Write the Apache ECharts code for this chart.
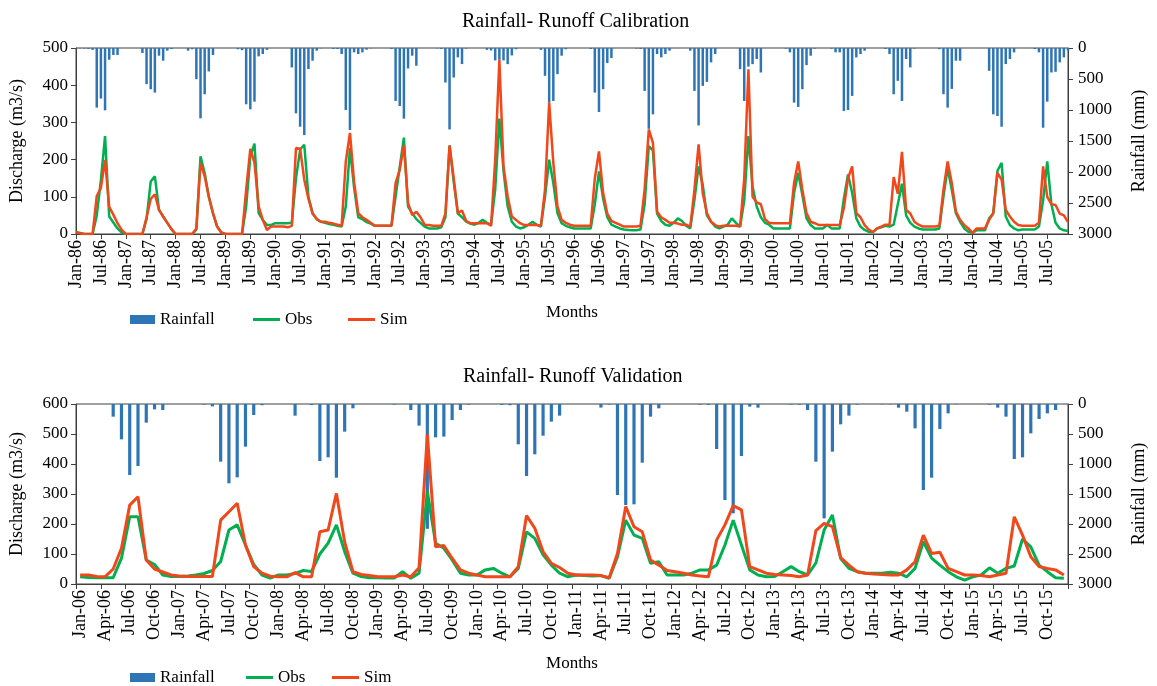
<!DOCTYPE html>
<html><head><meta charset="utf-8">
<script src="https://cdn.jsdelivr.net/npm/echarts@6/dist/echarts.min.js"></script>
<style>html,body{margin:0;padding:0;background:#fff}#c{width:1157px;height:686px}</style>
</head><body><div id="c"></div>
<script>
const monthNames = ['Jan','Feb','Mar','Apr','May','Jun','Jul','Aug','Sep','Oct','Nov','Dec'];
const calibYears = ['86','87','88','89','90','91','92','93','94','95','96','97','98','99','00','01','02','03','04','05'];
const validYears = ['06','07','08','09','10','11','12','13','14','15'];
const calibMonths = calibYears.flatMap(y => monthNames.map(m => m + '-' + y));
const validMonths = validYears.flatMap(y => monthNames.map(m => m + '-' + y));

const calibTitle = 'Rainfall- Runoff Calibration';
const validTitle = 'Rainfall- Runoff Validation';
const dischargeName = 'Discharge (m3/s)';
const rainfallName = 'Rainfall (mm)';
const monthsName = 'Months';

// Calibration (Jan-86 .. Dec-05), one row per year
const calibObs = [
  5,3,0,0,0,50,145,263,47,31,15,4,
  0,0,0,0,0,40,141,155,65,47,30,13,
  0,0,0,0,0,12,209,164,100,56,20,4,
  0,0,0,0,0,74,209,243,56,38,24,24,
  29,29,29,29,30,150,227,240,100,56,40,33,
  30,27,25,22,20,74,231,125,45,40,32,28,
  22,22,22,22,22,101,180,259,74,56,40,30,
  20,15,15,15,18,45,238,140,55,45,33,28,
  25,30,38,30,25,120,310,170,74,33,20,15,
  18,25,33,25,20,100,200,137,56,29,22,18,
  15,15,15,15,15,80,168,95,45,25,20,15,
  12,11,10,10,12,80,236,225,55,35,25,22,
  30,42,35,22,15,92,182,132,50,33,20,15,
  20,25,42,30,20,90,263,128,74,45,30,25,
  15,15,15,15,15,110,164,105,42,24,15,15,
  15,25,15,15,15,95,160,110,42,20,11,6,
  5,15,18,22,20,25,80,135,50,30,20,15,
  12,12,12,12,15,101,177,119,56,33,15,6,
  3,10,10,10,42,56,170,191,47,24,15,10,
  12,12,12,12,20,90,195,80,30,15,10,8
];
const calibSim = [
  5,2,0,0,0,102,124,199,73,52,29,11,
  0,0,0,0,0,45,94,107,65,47,30,13,
  0,0,0,0,0,15,191,155,100,56,20,4,
  0,0,0,0,0,119,229,191,74,38,11,20,
  20,20,20,18,22,231,229,146,95,55,40,33,
  33,30,28,25,22,195,272,140,56,45,38,30,
  22,22,22,22,22,137,173,238,83,51,60,45,
  25,24,22,22,22,55,238,150,56,63,35,29,
  29,29,29,29,22,200,468,182,101,47,38,29,
  24,24,24,24,22,120,353,191,74,38,30,25,
  22,22,22,22,22,150,222,110,55,35,30,25,
  20,20,20,20,22,120,281,245,60,45,38,30,
  30,28,25,25,20,119,241,110,56,33,24,20,
  22,22,22,22,20,150,443,100,85,80,40,30,
  29,29,29,29,29,137,195,119,56,33,29,24,
  24,24,24,24,24,70,150,182,56,45,24,12,
  5,15,20,25,25,153,108,221,65,55,33,25,
  20,20,20,20,22,119,195,137,60,38,24,15,
  3,15,15,15,38,56,164,146,65,47,33,24,
  22,22,22,22,30,182,100,80,78,55,50,32
];
const calibRain = [
  5,5,10,15,30,962,816,1005,189,113,113,0,
  0,0,0,0,81,584,665,719,124,205,43,16,
  0,0,0,43,20,503,1135,746,378,114,0,0,
  0,0,0,20,35,908,989,865,135,97,30,0,
  0,0,0,0,313,1054,1270,1405,340,205,43,5,
  0,0,16,16,97,1000,1324,70,97,70,27,5,
  0,0,0,0,16,854,935,1140,330,124,286,0,
  0,0,0,5,16,557,1313,476,151,259,10,0,
  0,0,0,30,40,200,190,200,260,120,20,0,
  0,0,0,0,30,449,881,854,422,124,20,0,
  0,0,0,0,16,719,1032,665,243,162,0,0,
  0,0,0,10,16,692,1303,1070,97,151,97,43,
  0,0,0,0,43,692,1249,611,546,232,97,0,
  0,0,0,0,341,854,300,260,178,395,0,0,
  0,0,0,10,70,881,951,665,276,124,10,0,
  0,0,10,70,70,1016,1000,773,151,97,43,0,
  0,0,0,16,97,746,530,854,178,313,10,0,
  0,0,0,0,20,746,962,660,205,205,0,0,
  0,0,0,0,368,1070,1097,1270,259,178,70,0,
  0,0,0,16,70,1286,865,395,384,232,151,43
];

// Validation (Jan-06 .. Dec-15)
const validObs = [
  24,22,21,21,21,86,224,224,80,65,30,25,
  25,27,30,35,45,75,180,197,130,65,30,20,
  30,30,35,45,42,100,136,197,108,36,25,21,
  21,20,20,41,19,36,308,136,119,80,36,30,
  30,47,52,36,24,52,174,152,97,63,36,24,
  30,28,27,28,19,91,213,163,152,69,74,30,
  30,30,36,47,47,63,130,213,130,47,30,24,
  25,41,58,41,30,70,180,230,85,52,41,36,
  36,36,39,36,24,52,141,86,63,41,24,13,
  24,30,54,36,52,60,150,124,63,41,21,19
];
const validSim = [
  30,30,25,24,50,119,263,291,80,50,40,30,
  27,25,25,25,25,213,241,269,130,58,36,26,
  24,24,38,24,24,174,180,302,140,41,32,28,
  24,24,24,30,24,54,499,124,128,86,47,36,
  30,24,24,24,24,58,228,186,108,69,55,36,
  30,30,30,28,21,102,258,191,174,80,63,45,
  41,36,30,27,24,147,197,261,247,58,47,36,
  32,30,28,24,30,178,202,191,88,63,41,36,
  33,32,30,30,47,74,163,102,106,52,41,30,
  30,28,24,30,36,224,163,91,58,52,47,30
];
const validRain = [
  0,0,0,0,211,589,1183,1033,311,89,100,0,
  0,0,0,10,40,961,1322,1222,711,183,20,0,
  0,0,194,0,17,950,889,1228,461,72,0,0,
  0,0,10,0,100,361,2080,556,544,267,100,10,
  0,0,0,15,20,672,1200,839,528,294,194,0,
  0,0,0,60,10,1517,1683,1672,978,211,72,0,
  0,0,0,10,15,750,1600,1822,867,44,61,0,
  0,0,10,10,100,961,1906,794,339,194,10,0,
  0,5,5,61,128,406,1433,1228,417,156,5,0,
  0,0,10,61,211,917,889,489,250,156,100,0
];

const FONT = 'Liberation Serif';
const AX = '#404040';
const C_RAIN = '#2E75B6', C_OBS = '#00B050', C_SIM = '#F2461B';

function xAxisCfg(grid, data, gap, every, nameGap) {
  return {
    gridIndex: grid, type: 'category', data: data, boundaryGap: gap,
    axisLine: {show: true, lineStyle: {color: AX, width: 1}},
    axisTick: {show: true, interval: every - 1, length: 5, lineStyle: {color: AX}},
    axisLabel: {interval: every - 1, rotate: 90, fontFamily: FONT, fontSize: 18, color: '#000', margin: 6},
    splitLine: {show: false},
    name: monthsName, nameLocation: 'middle', nameGap: nameGap,
    nameTextStyle: {fontFamily: FONT, fontSize: 17, color: '#000'}
  };
}
function leftAxis(grid, max) {
  return {
    gridIndex: grid, type: 'value', min: 0, max: max, interval: 100, position: 'left',
    axisLine: {show: true, lineStyle: {color: AX}},
    axisTick: {show: true, length: 5, lineStyle: {color: AX}},
    axisLabel: {fontFamily: FONT, fontSize: 17, color: '#000', margin: 8, formatter: v => String(v)},
    splitLine: {show: false},
    name: dischargeName, nameLocation: 'middle', nameGap: 50, nameRotate: 90,
    nameTextStyle: {fontFamily: FONT, fontSize: 18, color: '#000'}
  };
}
function rightAxis(grid) {
  return {
    gridIndex: grid, type: 'value', min: 0, max: 3000, interval: 500, inverse: true, position: 'right',
    axisLine: {show: true, lineStyle: {color: AX}},
    axisTick: {show: true, length: 5, lineStyle: {color: AX}},
    axisLabel: {fontFamily: FONT, fontSize: 17, color: '#000', margin: 10, formatter: v => String(v)},
    splitLine: {show: false},
    name: rainfallName, nameLocation: 'middle', nameGap: 62, nameRotate: 90,
    nameTextStyle: {fontFamily: FONT, fontSize: 18, color: '#000'}
  };
}
function legendItem(name, left, top, w, h) {
  return {
    data: [{name: name, icon: 'rect'}], left: left, top: top, itemWidth: w, itemHeight: h,
    itemGap: 0, textStyle: {fontFamily: FONT, fontSize: 17, color: '#000'}, selectedMode: false
  };
}

const chart = echarts.init(document.getElementById('c'), null, {renderer: 'canvas'});
chart.setOption({
  animation: false,
  backgroundColor: '#fff',
  title: [
    {text: calibTitle, left: 457, top: 7, textStyle: {fontFamily: FONT, fontSize: 20, fontWeight: 'normal', color: '#000'}},
    {text: validTitle, left: 458, top: 362, textStyle: {fontFamily: FONT, fontSize: 20, fontWeight: 'normal', color: '#000'}}
  ],
  legend: [
    legendItem('Rainfall', 125, 306, 25, 9),
    legendItem('Obs', 248, 306, 27, 3),
    legendItem('Sim', 343, 306, 27, 3),
    legendItem('Rainfall', 125, 664, 25, 9),
    legendItem('Obs', 241, 664, 27, 3),
    legendItem('Sim', 327, 664, 27, 3)
  ],
  grid: [
    {left: 73, right: 89, top: 48, height: 186, show: true, borderColor: AX, borderWidth: 1, backgroundColor: 'transparent'},
    {left: 73, right: 89, top: 404, height: 180, show: true, borderColor: AX, borderWidth: 1, backgroundColor: 'transparent'}
  ],
  xAxis: [
    xAxisCfg(0, calibMonths, false, 6, 70),
    xAxisCfg(1, validMonths, true, 3, 71)
  ],
  yAxis: [leftAxis(0, 500), rightAxis(0), leftAxis(1, 600), rightAxis(1)],
  series: [
    {name: 'Rainfall', type: 'bar', xAxisIndex: 0, yAxisIndex: 1, data: calibRain, barWidth: 2.5, itemStyle: {color: C_RAIN}},
    {name: 'Obs', type: 'line', xAxisIndex: 0, yAxisIndex: 0, data: calibObs, symbol: 'none', lineStyle: {color: C_OBS, width: 2.5}, itemStyle: {color: C_OBS}},
    {name: 'Sim', type: 'line', xAxisIndex: 0, yAxisIndex: 0, data: calibSim, symbol: 'none', lineStyle: {color: C_SIM, width: 2.5}, itemStyle: {color: C_SIM}},
    {name: 'Rainfall', type: 'bar', xAxisIndex: 1, yAxisIndex: 3, data: validRain, barWidth: 3.2, itemStyle: {color: C_RAIN}},
    {name: 'Obs', type: 'line', xAxisIndex: 1, yAxisIndex: 2, data: validObs, symbol: 'none', lineStyle: {color: C_OBS, width: 3}, itemStyle: {color: C_OBS}},
    {name: 'Sim', type: 'line', xAxisIndex: 1, yAxisIndex: 2, data: validSim, symbol: 'none', lineStyle: {color: C_SIM, width: 3}, itemStyle: {color: C_SIM}}
  ]
});
</script></body></html>
